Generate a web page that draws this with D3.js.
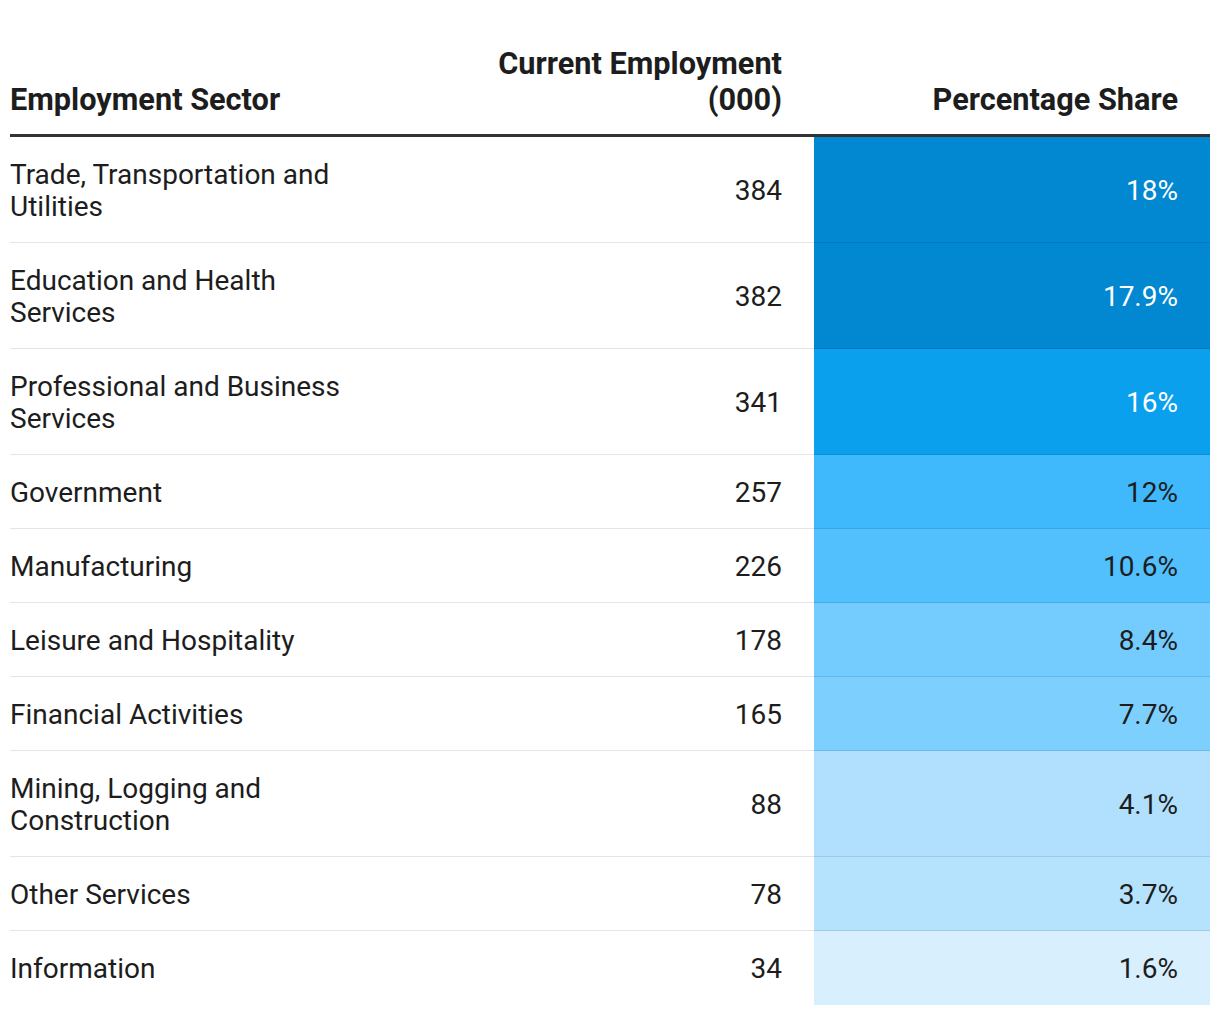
<!DOCTYPE html>
<html><head><meta charset="utf-8">
<script src="https://cdn.jsdelivr.net/npm/d3@7"></script>
<style>
html,body{margin:0;padding:0;background:#fff;}
svg text{font-family:Roboto,"Noto Sans",sans-serif;}
</style></head>
<body><svg id="chart" width="1220" height="1014"></svg>
<script>
const sectors = ["Trade, Transportation and Utilities","Education and Health Services","Professional and Business Services","Government","Manufacturing","Leisure and Hospitality","Financial Activities","Mining, Logging and Construction","Other Services","Information"];
const employment = [384,382,341,257,226,178,165,88,78,34];
const shares = [18,17.9,16,12,10.6,8.4,7.7,4.1,3.7,1.6];
const headers = [["Employment Sector"],["Current Employment","(000)"],["Percentage Share"]];

const svg = d3.select("#chart");
const left = 10, right = 1210;
const numRight = 782, colorLeft = 814, pctRight = 1178;
const fs = 28, hfs = 30.7, lineH = 32, wrapW = 350;
const headerLine = 136;

const colorScale = d3.scaleThreshold()
  .domain([3, 4, 5, 8, 9, 11, 14, 17])
  .range(["#d8effd","#b5e2fd","#b0e0fd","#7dcffe","#73cbfe","#51c0fd","#40b8fc","#0aa0ee","#0288d1"]);
const textColor = d => d >= 14 ? "#ffffff" : "#1d1d1d";

// header
headers.forEach((lines, i) => {
  const x = i === 0 ? left : (i === 1 ? numRight : pctRight);
  const anchor = i === 0 ? "start" : "end";
  const n = lines.length;
  lines.forEach((t, j) => {
    svg.append("text").attr("x", x).attr("y", 110 - (n - 1 - j) * 36)
      .attr("text-anchor", anchor).attr("font-size", hfs).attr("font-weight", 700)
      .attr("fill", "#1d1d1d").text(t);
  });
});

// wrap sector names
const measure = svg.append("text").attr("font-size", fs).attr("visibility", "hidden");
function wrap(str) {
  const words = str.split(" "); const lines = []; let cur = "";
  words.forEach(w => {
    const test = cur ? cur + " " + w : w;
    measure.text(test);
    if (measure.node().getComputedTextLength() > wrapW && cur) { lines.push(cur); cur = w; }
    else cur = test;
  });
  if (cur) lines.push(cur);
  return lines;
}
const rows = sectors.map((s, i) => ({ sector: s, lines: wrap(s), emp: employment[i], share: shares[i] }));
measure.remove();

let y = headerLine + 1;
rows.forEach(r => { r.h = (r.lines.length - 1) * lineH + 74; r.y = y; y += r.h; });

const g = svg.append("g");
const row = g.selectAll("g.row").data(rows).join("g").attr("class", "row")
  .attr("transform", d => `translate(0,${d.y})`);

row.append("rect").attr("x", colorLeft).attr("y", 0).attr("width", right - colorLeft)
  .attr("height", d => d.h).attr("fill", d => colorScale(d.share));

const off = 10;
row.each(function(d) {
  const sel = d3.select(this);
  const c = d.h / 2;
  const n = d.lines.length;
  d.lines.forEach((t, j) => {
    sel.append("text").attr("x", left).attr("y", c + (j - (n - 1) / 2) * lineH + off)
      .attr("font-size", fs).attr("fill", "#1d1d1d").text(t);
  });
  sel.append("text").attr("x", numRight).attr("y", c + off).attr("text-anchor", "end")
    .attr("font-size", fs).attr("fill", "#1d1d1d").text(d.emp);
  sel.append("text").attr("x", pctRight).attr("y", c + off).attr("text-anchor", "end")
    .attr("font-size", fs).attr("fill", textColor(d.share)).text(d3.format("~r")(d.share) + "%");
});

row.filter((d, i) => i < rows.length - 1).append("line")
  .attr("x1", left).attr("x2", right).attr("y1", d => d.h - 0.5).attr("y2", d => d.h - 0.5)
  .attr("stroke", "#000").attr("stroke-opacity", 0.1).attr("stroke-width", 1);

svg.append("line").attr("x1", left).attr("x2", right).attr("y1", headerLine - 0.5).attr("y2", headerLine - 0.5)
  .attr("stroke", "#333").attr("stroke-width", 3);
</script></body></html>
